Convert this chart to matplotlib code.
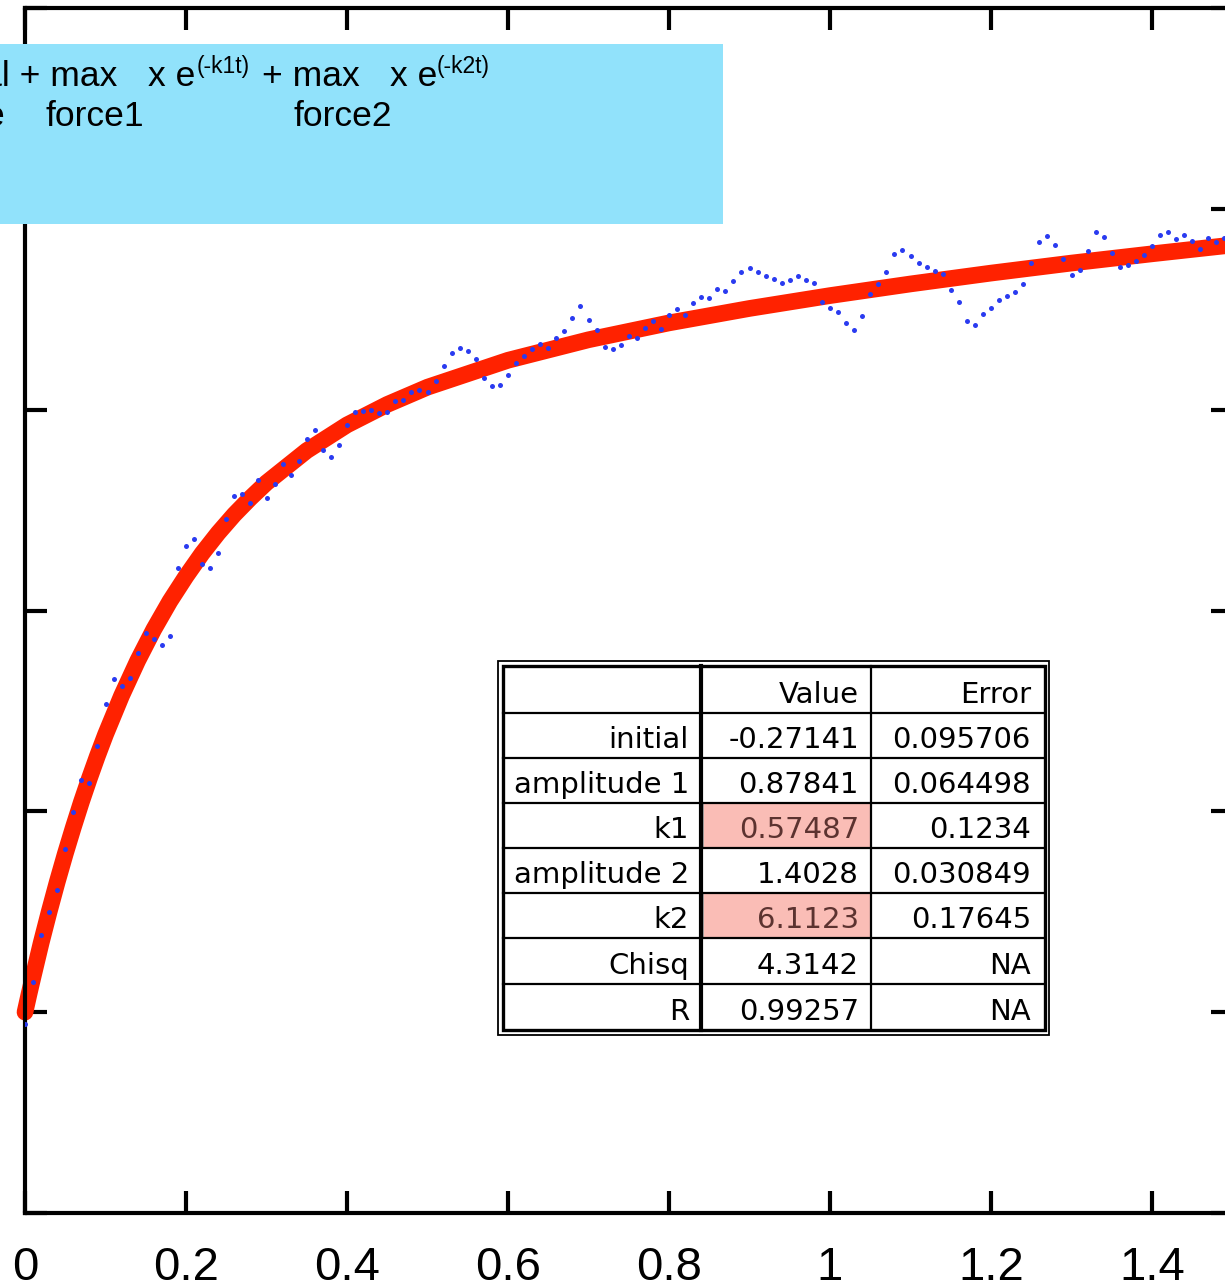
import numpy as np
import matplotlib
matplotlib.use('Agg')
from matplotlib import pyplot as plt
from matplotlib.patches import Rectangle

plt.rcParams['font.family'] = ['Liberation Sans', 'DejaVu Sans']

# fitted curve (red)
fit_t = [0, 0.005, 0.01, 0.02, 0.03, 0.04, 0.05, 0.06, 0.07, 0.08, 0.09, 0.10,
         0.12, 0.14, 0.16, 0.18, 0.20, 0.22, 0.24, 0.26, 0.28, 0.30, 0.35, 0.40,
         0.45, 0.50, 0.60, 0.70, 0.80, 0.90, 1.00, 1.10, 1.20, 1.30, 1.40, 1.50]
fit_y = [0.000, 0.045, 0.088, 0.172, 0.250, 0.324, 0.394, 0.460, 0.523, 0.582, 0.638, 0.691,
         0.788, 0.875, 0.953, 1.023, 1.085, 1.142, 1.193, 1.239, 1.280, 1.318, 1.398, 1.462,
         1.513, 1.556, 1.623, 1.674, 1.716, 1.752, 1.784, 1.813, 1.840, 1.865, 1.888, 1.910]

# measured points (blue), one every 0.01
data_t = np.round(np.arange(150) * 0.01, 2)
data_y = [-0.030, 0.076, 0.192, 0.250, 0.304, 0.407, 0.498, 0.578, 0.570, 0.663,
          0.766, 0.829, 0.813, 0.832, 0.895, 0.945, 0.928, 0.913, 0.936, 1.105,
          1.160, 1.177, 1.117, 1.106, 1.143, 1.229, 1.284, 1.290, 1.268, 1.324,
          1.281, 1.315, 1.365, 1.338, 1.371, 1.428, 1.449, 1.399, 1.382, 1.413,
          1.462, 1.493, 1.496, 1.498, 1.491, 1.493, 1.522, 1.524, 1.544, 1.548,
          1.544, 1.571, 1.608, 1.640, 1.654, 1.645, 1.627, 1.579, 1.560, 1.562,
          1.586, 1.616, 1.634, 1.652, 1.664, 1.654, 1.679, 1.697, 1.727, 1.757,
          1.724, 1.698, 1.657, 1.650, 1.661, 1.683, 1.679, 1.703, 1.721, 1.700,
          1.736, 1.750, 1.736, 1.765, 1.780, 1.779, 1.801, 1.796, 1.820, 1.843,
          1.852, 1.843, 1.833, 1.825, 1.815, 1.823, 1.834, 1.824, 1.816, 1.769,
          1.754, 1.742, 1.715, 1.698, 1.734, 1.787, 1.814, 1.842, 1.887, 1.898,
          1.883, 1.866, 1.856, 1.846, 1.837, 1.797, 1.767, 1.720, 1.710, 1.737,
          1.753, 1.772, 1.783, 1.792, 1.813, 1.866, 1.918, 1.932, 1.910, 1.875,
          1.835, 1.847, 1.895, 1.942, 1.929, 1.890, 1.854, 1.861, 1.871, 1.886,
          1.908, 1.935, 1.942, 1.925, 1.935, 1.919, 1.901, 1.928, 1.918, 1.928]

x_ticks = [0, 0.2, 0.4, 0.6, 0.8, 1.0, 1.2, 1.4]
x_ticklabels = ['0', '0.2', '0.4', '0.6', '0.8', '1', '1.2', '1.4']
y_ticks = [-0.5, 0, 0.5, 1, 1.5, 2, 2.5]

# fit results table
row_names = ['initial', 'amplitude 1', 'k1', 'amplitude 2', 'k2', 'Chisq', 'R']
row_value = ['-0.27141', '0.87841', '0.57487', '1.4028', '6.1123', '4.3142', '0.99257']
row_error = ['0.095706', '0.064498', '0.1234', '0.030849', '0.17645', 'NA', 'NA']
highlight = ['k1', 'k2']

W, H = 1225, 1288
fig = plt.figure(figsize=(W / 100, H / 100), dpi=100)

ax = fig.add_axes([25 / W, 75 / H, 1207.5 / W, 1205 / H])
ax.plot(fit_t, fit_y, color='#FF2200', lw=12, solid_capstyle='round', zorder=2, clip_on=False)
ax.plot(data_t, data_y, 'o', ms=3.6, mew=0, color='#2A3BF0', zorder=3)
ax.set_xlim(0, 1.5)
ax.set_ylim(-0.5, 2.5)
ax.set_xticks(x_ticks)
ax.set_xticklabels(x_ticklabels)
ax.set_yticks(y_ticks)
ax.tick_params(direction='in', length=16, width=3, top=True, right=True,
               labelsize=34, pad=24, labelleft=False)
for s in ax.spines.values():
    s.set_linewidth(3)

# overlay in pixel coordinates for the equation box and table
ov = fig.add_axes([0, 0, 1, 1], zorder=5)
ov.set_xlim(0, W)
ov.set_ylim(H, 0)
ov.axis('off')

ov.add_patch(Rectangle((0, 44), 723, 180, color='#91E2FB', lw=0))
big = dict(fontsize=25.5, va='baseline', family='Liberation Sans')
small = dict(fontsize=16.5, va='baseline', family='Liberation Sans')
ov.text(117, 86, 'initial + max', ha='right', **big)
ov.text(148, 86, 'x e', ha='left', **big)
ov.text(197, 73, '(-k1t)', ha='left', **small)
ov.text(262, 86, '+ max', ha='left', **big)
ov.text(390, 86, 'x e', ha='left', **big)
ov.text(437, 73, '(-k2t)', ha='left', **small)
ov.text(6, 126, 'value', ha='right', **big)
ov.text(46, 126, 'force1', ha='left', **big)
ov.text(293, 126, 'force2', ha='left', **big)

# table
rows_y = [666, 713, 758, 803, 848, 893, 938, 984, 1030]
col_x = [503, 701, 871, 1045]
ov.add_patch(Rectangle((503, 666), 542, 364, facecolor='white', edgecolor='none'))
for i, name in enumerate(row_names):
    if name in highlight:
        ov.add_patch(Rectangle((703, rows_y[i + 1]), 167, rows_y[i + 2] - rows_y[i + 1],
                               facecolor='#FABDB6', edgecolor='#999999', lw=0.6))
ov.add_patch(Rectangle((498, 661), 551, 374, fill=False, edgecolor='black', lw=1.3))
ov.add_patch(Rectangle((503, 666), 542, 364, fill=False, edgecolor='black', lw=2.4))
for y in rows_y[1:-1]:
    ov.plot([503, 1045], [y, y], color='black', lw=1.6)
ov.plot([col_x[1], col_x[1]], [666, 1030], color='black', lw=3)
ov.plot([col_x[2], col_x[2]], [666, 1030], color='black', lw=1.6)

tf = dict(fontsize=21, family='DejaVu Sans', va='baseline', ha='right')
ov.text(859, rows_y[1] - 10, 'Value', **tf)
ov.text(1031, rows_y[1] - 10, 'Error', **tf)
for i, name in enumerate(row_names):
    yb = rows_y[i + 2] - 10
    vc = '#5C3330' if name in highlight else 'black'
    ov.text(689, yb, name, **tf)
    ov.text(859, yb, row_value[i], color=vc, **tf)
    ov.text(1031, yb, row_error[i], **tf)

fig.savefig('out.png', dpi=100)
